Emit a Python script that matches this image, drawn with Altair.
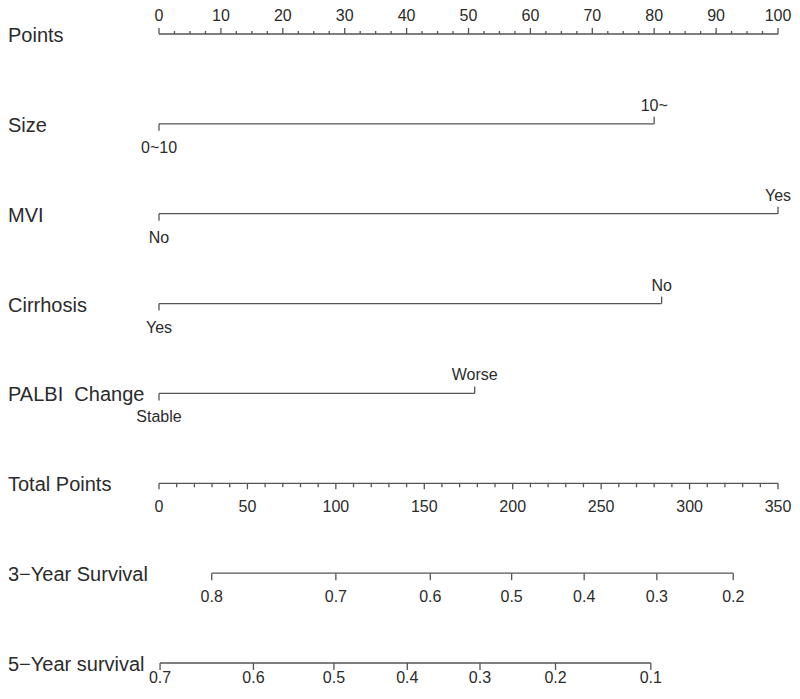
import altair as alt
import pandas as pd

# ---- data ----
row_titles = ["Points", "Size", "MVI", "Cirrhosis", "PALBI\u00a0 Change",
              "Total Points", "3\u2212Year Survival", "5\u2212Year survival"]

points_labels = [0, 10, 20, 30, 40, 50, 60, 70, 80, 90, 100]
points_minor_step = 2.5

size_levels = ["0~10", "10~"]
size_points = [0, 80]
mvi_levels = ["No", "Yes"]
mvi_points = [0, 100]
cirr_levels = ["Yes", "No"]
cirr_points = [0, 81.2]
palbi_levels = ["Stable", "Worse"]
palbi_points = [0, 51]

total_labels = [0, 50, 100, 150, 200, 250, 300, 350]
total_minor_step = 10
total_max = 350
points_max = 100

surv3_labels = ["0.8", "0.7", "0.6", "0.5", "0.4", "0.3", "0.2"]
surv3_total = [29.8, 100.0, 153.4, 199.4, 240.4, 281.5, 324.7]
surv5_labels = ["0.7", "0.6", "0.5", "0.4", "0.3", "0.2", "0.1"]
surv5_total = [0.6, 53.4, 98.9, 140.4, 181.5, 224.2, 278.1]

# ---- build tables ----
def tp(v):  # total points -> points scale
    return v * points_max / total_max

lines, ticks, labels = [], [], []

# Points row (0)
lines.append(dict(row=0, start=0, end=points_max))
n_minor = int(points_max / points_minor_step)
for i in range(n_minor + 1):
    p = i * points_minor_step
    ticks.append(dict(row=0, pos=p, kind="up_major" if p in points_labels else "up_minor"))
for p in points_labels:
    labels.append(dict(row=0, pos=p, text=str(p), side="above"))

# categorical rows
for r, (lv, pts) in enumerate([(size_levels, size_points), (mvi_levels, mvi_points),
                                (cirr_levels, cirr_points), (palbi_levels, palbi_points)], start=1):
    lines.append(dict(row=r, start=min(pts), end=max(pts)))
    for j, (l, p) in enumerate(zip(lv, pts)):
        side = "below" if j % 2 == 0 else "above"
        ticks.append(dict(row=r, pos=p, kind="cat_down" if side == "below" else "cat_up"))
        labels.append(dict(row=r, pos=p, text=l, side=side))

# Total points row (5)
lines.append(dict(row=5, start=0, end=tp(total_max)))
for i in range(int(total_max / total_minor_step) + 1):
    v = i * total_minor_step
    ticks.append(dict(row=5, pos=tp(v), kind="down_major" if v in total_labels else "down_minor"))
for v in total_labels:
    labels.append(dict(row=5, pos=tp(v), text=str(v), side="below"))

# survival rows
for r, (lab, tot, side) in [(6, (surv3_labels, surv3_total, "below")),
                            (7, (surv5_labels, surv5_total, "below_close"))]:
    lines.append(dict(row=r, start=tp(min(tot)), end=tp(max(tot))))
    for l, t in zip(lab, tot):
        ticks.append(dict(row=r, pos=tp(t), kind="cat_down"))
        labels.append(dict(row=r, pos=tp(t), text=l, side=side))

titles = pd.DataFrame(dict(row=list(range(len(row_titles))), text=row_titles))
lines_df = pd.DataFrame(lines)
ticks_df = pd.DataFrame(ticks)
labels_df = pd.DataFrame(labels)

LINE = "#555555"
TEXT = "#2b2b2b"
FONT = "Liberation Sans"

xs = alt.Scale(domain=[0, points_max], nice=False, zero=False)
ys = alt.Scale(domain=[0, 7], reverse=True, nice=False, zero=False)

line_layer = alt.Chart(lines_df).mark_rule(color=LINE, strokeWidth=1.3).encode(
    x=alt.X("start:Q", scale=xs, axis=None),
    x2="end:Q",
    y=alt.Y("row:Q", scale=ys, axis=None),
)

tick_len = {"up_major": -6, "up_minor": -3, "cat_up": -7, "cat_down": 7,
            "down_major": 6, "down_minor": 4}
tick_layers = []
for k, off in tick_len.items():
    tick_layers.append(
        alt.Chart(ticks_df).transform_filter(alt.datum.kind == k)
        .mark_rule(color=LINE, strokeWidth=1.3, y2Offset=off)
        .encode(x=alt.X("pos:Q", scale=xs, axis=None),
                y=alt.Y("row:Q", scale=ys, axis=None),
                y2="row:Q")
    )

label_dy = {"above": -18, "below": 24, "below_close": 15}
label_layers = []
for s, dy in label_dy.items():
    label_layers.append(
        alt.Chart(labels_df).transform_filter(alt.datum.side == s)
        .mark_text(font=FONT, fontSize=16, color=TEXT, dy=dy, baseline="middle", align="center")
        .encode(x=alt.X("pos:Q", scale=xs, axis=None),
                y=alt.Y("row:Q", scale=ys, axis=None),
                text="text:N")
    )

title_layer = alt.Chart(titles).mark_text(
    font=FONT, fontSize=20, color=TEXT, align="left", baseline="middle", dy=2
).encode(
    x=alt.value(-151),
    y=alt.Y("row:Q", scale=ys, axis=None),
    text="text:N",
)

chart = alt.layer(line_layer, *tick_layers, *label_layers, title_layer).properties(
    width=619, height=629,
    background="white",
    autosize=alt.AutoSizeParams(type="none"),
    padding={"left": 151, "top": 26, "right": 14, "bottom": 22},
).configure_view(strokeWidth=0, stroke="transparent")

chart.save("out.html", embed_options={"renderer": "svg", "actions": False})
